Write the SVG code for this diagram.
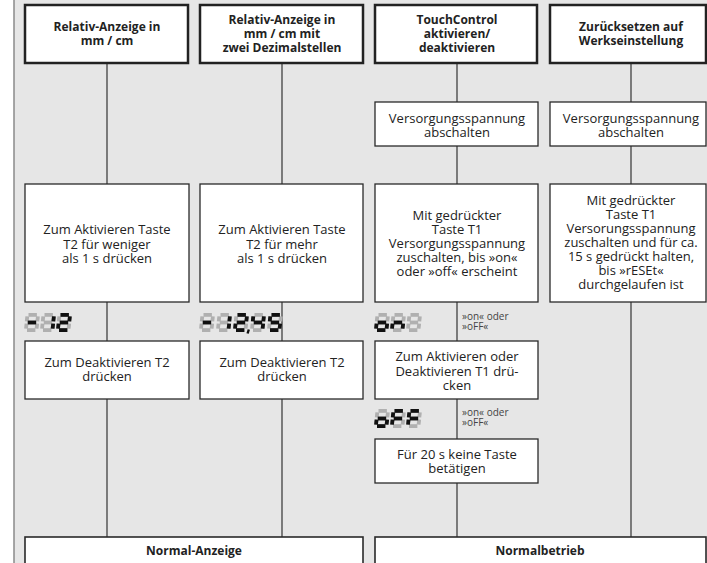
<svg xmlns="http://www.w3.org/2000/svg" xmlns:xlink="http://www.w3.org/1999/xlink" width="707" height="563" viewBox="0 0 707 563">
<style>
  .hdr { fill:#fff; stroke:#222; stroke-width:2.5; }
  .box { fill:#fff; stroke:#2a2a2a; stroke-width:1.3; }
  .bot { fill:#fff; stroke:#2a2a2a; stroke-width:1.6; }
  .ht { font-family:"Open Sans","Liberation Sans",sans-serif; font-weight:bold; font-size:12px; fill:#222; text-anchor:middle; }
  .bt { font-family:"Open Sans","Liberation Sans",sans-serif; font-size:13px; fill:#222; text-anchor:middle; }
  .st { font-family:"Open Sans","Liberation Sans",sans-serif; font-size:10px; fill:#444; }
  .conn line { stroke:#333; stroke-width:1.2; }
  .ghost { stroke:#b0b0b0; stroke-width:3.8; }
  .on { stroke:#111; stroke-width:3.8; }
</style>
<defs>
  <line id="sa" x1="4.5" y1="1.9" x2="12.9" y2="1.9"/>
  <line id="sb" x1="13.88" y1="3.4" x2="13.34" y2="8.4"/>
  <line id="sc" x1="13.16" y1="10.6" x2="12.62" y2="15.6"/>
  <line id="sd" x1="2.97" y1="17.1" x2="11.37" y2="17.1"/>
  <line id="se" x1="2.56" y1="10.6" x2="2.02" y2="15.6"/>
  <line id="sf" x1="3.28" y1="3.4" x2="2.74" y2="8.4"/>
  <line id="sg" x1="3.75" y1="9.5" x2="12.15" y2="9.5"/>
  <g id="d8">
    <use xlink:href="#sa"/><use xlink:href="#sb"/><use xlink:href="#sc"/><use xlink:href="#sd"/>
    <use xlink:href="#se"/><use xlink:href="#sf"/><use xlink:href="#sg"/>
  </g>
</defs>

<!-- background -->
<rect x="0" y="0" width="707" height="563" fill="#fff"/>
<rect x="14" y="0" width="693" height="563" fill="#e6e6e6"/>
<line x1="14" y1="0" x2="14" y2="563" stroke="#8a8a8a" stroke-width="1.5"/>

<!-- connectors -->
<g id="connectors" class="conn">
  <line x1="107" y1="63" x2="107" y2="184"/>
  <line x1="107" y1="302" x2="107" y2="341"/>
  <line x1="107" y1="399" x2="107" y2="537"/>
  <line x1="282" y1="63" x2="282" y2="184"/>
  <line x1="282" y1="302" x2="282" y2="341"/>
  <line x1="282" y1="399" x2="282" y2="537"/>
  <line x1="457" y1="63" x2="457" y2="102"/>
  <line x1="457" y1="146" x2="457" y2="184"/>
  <line x1="457" y1="302" x2="457" y2="341"/>
  <line x1="457" y1="399" x2="457" y2="439"/>
  <line x1="457" y1="483" x2="457" y2="537"/>
  <line x1="631" y1="63" x2="631" y2="102"/>
  <line x1="631" y1="146" x2="631" y2="184"/>
  <line x1="631" y1="302" x2="631" y2="537"/>
</g>

<!-- header nodes -->
<g id="h1">
  <rect class="hdr" x="25" y="5" width="163" height="58"/>
  <text class="ht" x="107" y="31">Relativ-Anzeige in</text>
  <text class="ht" x="107" y="45">mm / cm</text>
</g>
<g id="h2">
  <rect class="hdr" x="200" y="5" width="163" height="58"/>
  <text class="ht" x="282" y="24">Relativ-Anzeige in</text>
  <text class="ht" x="282" y="38">mm / cm mit</text>
  <text class="ht" x="282" y="52">zwei Dezimalstellen</text>
</g>
<g id="h3">
  <rect class="hdr" x="375" y="5" width="162" height="58"/>
  <text class="ht" x="457" y="24">TouchControl</text>
  <text class="ht" x="457" y="38">aktivieren/</text>
  <text class="ht" x="457" y="52">deaktivieren</text>
</g>
<g id="h4">
  <rect class="hdr" x="550" y="5" width="156" height="58"/>
  <text class="ht" x="631" y="31">Zurücksetzen auf</text>
  <text class="ht" x="631" y="45">Werkseinstellung</text>
</g>

<!-- Versorgung abschalten -->
<g id="v3">
  <rect class="box" x="375" y="102" width="163" height="44"/>
  <text class="bt" x="457" y="123">Versorgungsspannung</text>
  <text class="bt" x="457" y="137">abschalten</text>
</g>
<g id="v4">
  <rect class="box" x="550" y="102" width="156" height="44"/>
  <text class="bt" x="631" y="123">Versorgungsspannung</text>
  <text class="bt" x="631" y="137">abschalten</text>
</g>

<!-- big boxes -->
<g id="a1">
  <rect class="box" x="25" y="184" width="164" height="118"/>
  <text class="bt" x="107" y="234">Zum Aktivieren Taste</text>
  <text class="bt" x="107" y="248.5">T2 für weniger</text>
  <text class="bt" x="107" y="263">als 1 s drücken</text>
</g>
<g id="a2">
  <rect class="box" x="200" y="184" width="163" height="118"/>
  <text class="bt" x="282" y="234">Zum Aktivieren Taste</text>
  <text class="bt" x="282" y="248.5">T2 für mehr</text>
  <text class="bt" x="282" y="263">als 1 s drücken</text>
</g>
<g id="a3">
  <rect class="box" x="375" y="184" width="163" height="118"/>
  <text class="bt" x="457" y="220">Mit gedrückter</text>
  <text class="bt" x="457" y="234">Taste T1</text>
  <text class="bt" x="457" y="248">Versorgungsspannung</text>
  <text class="bt" x="457" y="262">zuschalten, bis »on«</text>
  <text class="bt" x="457" y="276">oder »off« erscheint</text>
</g>
<g id="a4">
  <rect class="box" x="550" y="184" width="156" height="118"/>
  <text class="bt" x="631" y="205">Mit gedrückter</text>
  <text class="bt" x="631" y="219">Taste T1</text>
  <text class="bt" x="631" y="233">Versorungsspannung</text>
  <text class="bt" x="631" y="247">zuschalten und für ca.</text>
  <text class="bt" x="631" y="261">15 s gedrückt halten,</text>
  <text class="bt" x="631" y="275">bis »rESEt«</text>
  <text class="bt" x="631" y="289">durchgelaufen ist</text>
</g>

<!-- displays -->
<g id="disp1">
  <use xlink:href="#d8" class="ghost" x="24" y="313"/>
  <use xlink:href="#d8" class="ghost" x="40" y="313"/>
  <use xlink:href="#d8" class="ghost" x="56" y="313"/>
  <g class="on" transform="translate(24,313)"><use xlink:href="#sg"/></g>
  <g class="on" transform="translate(40,313)"><use xlink:href="#sb"/><use xlink:href="#sc"/></g>
  <g class="on" transform="translate(56,313)"><use xlink:href="#sa"/><use xlink:href="#sb"/><use xlink:href="#sg"/><use xlink:href="#se"/><use xlink:href="#sd"/></g>
</g>
<g id="disp2">
  <use xlink:href="#d8" class="ghost" x="199" y="313"/>
  <use xlink:href="#d8" class="ghost" x="216" y="313"/>
  <use xlink:href="#d8" class="ghost" x="233" y="313"/>
  <use xlink:href="#d8" class="ghost" x="250" y="313"/>
  <use xlink:href="#d8" class="ghost" x="267" y="313"/>
  <g class="on" transform="translate(199,313)"><use xlink:href="#sg"/></g>
  <g class="on" transform="translate(216,313)"><use xlink:href="#sb"/><use xlink:href="#sc"/></g>
  <g class="on" transform="translate(233,313)"><use xlink:href="#sa"/><use xlink:href="#sb"/><use xlink:href="#sg"/><use xlink:href="#se"/><use xlink:href="#sd"/><line x1="15.8" y1="16.5" x2="14.6" y2="20.5" stroke-width="2.4"/></g>
  <g class="on" transform="translate(250,313)"><use xlink:href="#sf"/><use xlink:href="#sg"/><use xlink:href="#sb"/><use xlink:href="#sc"/></g>
  <g class="on" transform="translate(267,313)"><use xlink:href="#sa"/><use xlink:href="#sf"/><use xlink:href="#sg"/><use xlink:href="#sc"/><use xlink:href="#sd"/></g>
</g>
<g id="disp3">
  <use xlink:href="#d8" class="ghost" x="374" y="313"/>
  <use xlink:href="#d8" class="ghost" x="390" y="313"/>
  <use xlink:href="#d8" class="ghost" x="406" y="313"/>
  <g class="on" transform="translate(374,313)"><use xlink:href="#sg"/><use xlink:href="#sc"/><use xlink:href="#sd"/><use xlink:href="#se"/></g>
  <g class="on" transform="translate(390,313)"><use xlink:href="#sg"/><use xlink:href="#sc"/><use xlink:href="#se"/></g>
  <text class="st" x="462" y="320">»on« oder</text>
  <text class="st" x="462" y="330">»oFF«</text>
</g>
<g id="disp4">
  <use xlink:href="#d8" class="ghost" x="374" y="409"/>
  <use xlink:href="#d8" class="ghost" x="390" y="409"/>
  <use xlink:href="#d8" class="ghost" x="406" y="409"/>
  <g class="on" transform="translate(374,409)"><use xlink:href="#sg"/><use xlink:href="#sc"/><use xlink:href="#sd"/><use xlink:href="#se"/></g>
  <g class="on" transform="translate(390,409)"><use xlink:href="#sa"/><use xlink:href="#sf"/><use xlink:href="#sg"/><use xlink:href="#se"/></g>
  <g class="on" transform="translate(406,409)"><use xlink:href="#sa"/><use xlink:href="#sf"/><use xlink:href="#sg"/><use xlink:href="#se"/></g>
  <text class="st" x="462" y="416">»on« oder</text>
  <text class="st" x="462" y="426">»oFF«</text>
</g>

<!-- deactivate boxes -->
<g id="b1">
  <rect class="box" x="25" y="341" width="164" height="58"/>
  <text class="bt" x="107" y="367">Zum Deaktivieren T2</text>
  <text class="bt" x="107" y="381">drücken</text>
</g>
<g id="b2">
  <rect class="box" x="200" y="341" width="163" height="58"/>
  <text class="bt" x="282" y="367">Zum Deaktivieren T2</text>
  <text class="bt" x="282" y="381">drücken</text>
</g>
<g id="b3">
  <rect class="box" x="375" y="341" width="163" height="58"/>
  <text class="bt" x="457" y="361">Zum Aktivieren oder</text>
  <text class="bt" x="457" y="375.5">Deaktivieren T1 drü-</text>
  <text class="bt" x="457" y="390">cken</text>
</g>
<g id="c3">
  <rect class="box" x="375" y="439" width="163" height="44"/>
  <text class="bt" x="457" y="459">Für 20 s keine Taste</text>
  <text class="bt" x="457" y="473">betätigen</text>
</g>

<!-- bottom nodes -->
<g id="n1">
  <rect class="bot" x="25" y="537" width="338" height="40"/>
  <text class="ht" x="194" y="555">Normal-Anzeige</text>
</g>
<g id="n2">
  <rect class="bot" x="375" y="537" width="331" height="40"/>
  <text class="ht" x="540" y="555">Normalbetrieb</text>
</g>
</svg>
